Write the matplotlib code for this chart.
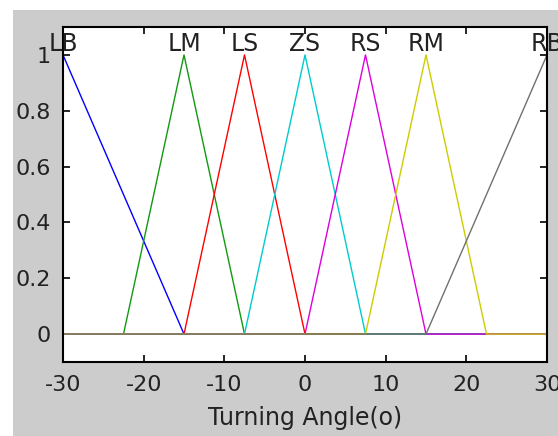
import numpy as np
import matplotlib
matplotlib.use('Agg')
import matplotlib.pyplot as plt

# 隶属度函数参数 (转向角)
mf_names = ['LB', 'LM', 'LS', 'ZS', 'RS', 'RM', 'RB']
mf_params = [
    [-30, -30, -15],
    [-22.5, -15, -7.5],
    [-15, -7.5, 0],
    [-7.5, 0, 7.5],
    [0, 7.5, 15],
    [7.5, 15, 22.5],
    [15, 30, 30],
]
mf_colors = ['#0000ff', '#119911', '#ff0000', '#00cccc', '#dd00dd', '#cccc00', '#707070']
x_ticks = [-30, -20, -10, 0, 10, 20, 30]
y_ticks = [0, 0.2, 0.4, 0.6, 0.8, 1]
y_tick_labels = ['0', '0.2', '0.4', '0.6', '0.8', '1']

plt.rcParams['font.family'] = ['DejaVu Sans']

fig = plt.figure(figsize=(5.58, 4.36), dpi=100)
fig.patch.set_facecolor('white')
# 灰色背景 (MATLAB 风格)
fig.patches.append(plt.Rectangle((13 / 558, 0), 1, 1 - 10 / 436, transform=fig.transFigure,
                                 facecolor='#cccccc', edgecolor='none', zorder=-10))
ax = fig.add_axes([63 / 558, 1 - 362 / 436, 484 / 558, 335 / 436])
ax.set_facecolor('white')

x = np.linspace(-30, 30, 601)
for name, p, c in zip(mf_names, mf_params, mf_colors):
    a, b, cc = p
    xs = [-30, a, b, cc, 30]
    ys = [0, 0, 1, 0, 0]
    if a == b:
        xs = [-30, b, cc, 30]
        ys = [1, 1, 0, 0]
    if b == cc:
        xs = [-30, a, b, 30]
        ys = [0, 0, 1, 1]
    y = np.interp(x, xs, ys)
    ax.plot(x, y, color=c, lw=1.0)
    ax.text(b, 1.04, name, ha='center', va='center', fontsize=17, color='#222222')

ax.set_xlim(-30, 30)
ax.set_ylim(-0.1, 1.1)
ax.set_xticks(x_ticks)
ax.set_xticklabels([str(t) for t in x_ticks])
ax.set_yticks(y_ticks)
ax.set_yticklabels(y_tick_labels)
ax.tick_params(direction='in', top=True, right=True, labelsize=16, length=5, width=1.2,
               pad=9, labelcolor='#222222')
for s in ax.spines.values():
    s.set_linewidth(1.5)
ax.set_xlabel('Turning Angle(o)', fontsize=17, color='#222222', labelpad=8)

plt.savefig('out.png', dpi=100, facecolor=fig.get_facecolor())
